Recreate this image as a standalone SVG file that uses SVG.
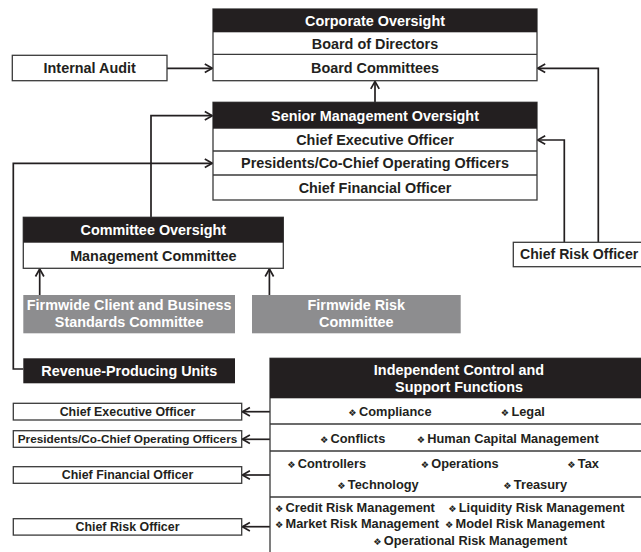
<svg xmlns="http://www.w3.org/2000/svg" width="641" height="552" viewBox="0 0 641 552">
<defs>
<style>
.box{fill:#fff;stroke:#3a3a3a;stroke-width:1.3}
.hdr{fill:#231f20}
.grey{fill:#8d8d8f}
.sep{stroke:#3a3a3a;stroke-width:1.3}
.t{font-family:"Liberation Sans",Arial,sans-serif;font-weight:bold;font-size:14.4px;text-anchor:middle;fill:#231f20}
.w{fill:#fff}
.s{font-size:12.4px}
.b{font-size:12.8px;text-anchor:start}
.dm{font-family:"DejaVu Sans",sans-serif;font-size:9.3px;font-weight:normal}
.ln{fill:none;stroke:#231f20;stroke-width:1.7;marker-end:url(#ah)}
</style>
<marker id="ah" viewBox="-10 -6 12 12" markerWidth="12" markerHeight="12" refX="0" refY="0" orient="auto" markerUnits="userSpaceOnUse">
<path d="M-7.5,-4.2 L0,0 L-7.5,4.2" fill="none" stroke="#231f20" stroke-width="1.7"/>
</marker>
</defs>
<rect width="641" height="552" fill="#fff"/>

<g id="connectors">
<path class="ln" d="M167,68.3 H212.3"/>
<path class="ln" d="M375,102.3 V81.4"/>
<path class="ln" d="M151,217.3 V115.7 H212.3"/>
<path class="ln" d="M23.3,369 H13.3 V163.3 H212.3"/>
<path class="ln" d="M564.3,242.3 V140 H537.7"/>
<path class="ln" d="M598.3,242.3 V68.3 H537.7"/>
<path class="ln" d="M39.7,295 V269"/>
<path class="ln" d="M269.4,295 V269"/>
<path class="ln" d="M270,411.7 H242.4"/>
<path class="ln" d="M270,439.3 H242.4"/>
<path class="ln" d="M270,475 H242.4"/>
<path class="ln" d="M270,526.7 H242.4"/>
</g>

<g id="corporate-oversight">
<rect class="box" x="213" y="9" width="324" height="71.7"/>
<rect class="hdr" x="213" y="9" width="324" height="23.3"/>
<line class="sep" x1="213" y1="54.3" x2="537" y2="54.3"/>
<text class="t w" x="375" y="25.8">Corporate Oversight</text>
<text class="t" x="375" y="48.5">Board of Directors</text>
<text class="t" x="375" y="72.7">Board Committees</text>
</g>

<g id="internal-audit">
<rect class="box" x="12.3" y="55.3" width="154.7" height="25.4"/>
<text class="t" x="89.7" y="73.2">Internal Audit</text>
</g>

<g id="senior-management-oversight">
<rect class="box" x="213" y="102.3" width="324" height="97.7"/>
<rect class="hdr" x="213" y="102.3" width="324" height="26.4"/>
<line class="sep" x1="213" y1="151" x2="537" y2="151"/>
<line class="sep" x1="213" y1="175" x2="537" y2="175"/>
<text class="t w" x="375" y="120.7">Senior Management Oversight</text>
<text class="t" x="375" y="145">Chief Executive Officer</text>
<text class="t" x="375" y="168.2">Presidents/Co-Chief Operating Officers</text>
<text class="t" x="375" y="192.7">Chief Financial Officer</text>
</g>

<g id="committee-oversight">
<rect class="box" x="23.3" y="217.3" width="260" height="51"/>
<rect class="hdr" x="23.3" y="217.3" width="260" height="25.4"/>
<text class="t w" x="153.3" y="235.2">Committee Oversight</text>
<text class="t" x="153.3" y="260.7">Management Committee</text>
</g>

<g id="chief-risk-officer-top">
<rect class="box" x="513.3" y="242.3" width="200" height="24.4"/>
<text class="t" x="520" y="259.2" style="text-anchor:start;font-size:14.1px">Chief Risk Officer</text>
</g>

<g id="firmwide-client-business-standards">
<rect class="grey" x="23.3" y="295" width="211.7" height="38.3"/>
<text class="t w" x="129.2" y="310">Firmwide Client and Business</text>
<text class="t w" x="129.2" y="326.7">Standards Committee</text>
</g>

<g id="firmwide-risk-committee">
<rect class="grey" x="252" y="295" width="208.7" height="38.3"/>
<text class="t w" x="356.3" y="310">Firmwide Risk</text>
<text class="t w" x="356.3" y="326.7">Committee</text>
</g>

<g id="revenue-producing-units">
<rect class="hdr" x="23.3" y="358.3" width="211.7" height="25"/>
<text class="t w" x="129.2" y="376">Revenue-Producing Units</text>
</g>

<g id="independent-control">
<rect class="box" x="270" y="358.3" width="400" height="210"/>
<rect class="hdr" x="270" y="358.3" width="400" height="40"/>
<line class="sep" x1="270" y1="424" x2="670" y2="424"/>
<line class="sep" x1="270" y1="451" x2="670" y2="451"/>
<line class="sep" x1="270" y1="497" x2="670" y2="497"/>
<text class="t w" x="459" y="375.2">Independent Control and</text>
<text class="t w" x="459" y="391.5">Support Functions</text>
<text class="t b" y="416.3"><tspan class="dm" x="348.3">❖</tspan><tspan x="359">Compliance</tspan></text>
<text class="t b" y="416.3"><tspan class="dm" x="500.7">❖</tspan><tspan x="511.4">Legal</tspan></text>
<text class="t b" y="443"><tspan class="dm" x="320">❖</tspan><tspan x="330.5">Conflicts</tspan></text>
<text class="t b" y="443"><tspan class="dm" x="416.7">❖</tspan><tspan x="427.3">Human Capital Management</tspan></text>
<text class="t b" y="468.3"><tspan class="dm" x="287.3">❖</tspan><tspan x="297.8">Controllers</tspan></text>
<text class="t b" y="468.3"><tspan class="dm" x="420.7">❖</tspan><tspan x="431.2">Operations</tspan></text>
<text class="t b" y="468.3"><tspan class="dm" x="567.3">❖</tspan><tspan x="577.8">Tax</tspan></text>
<text class="t b" y="489.3"><tspan class="dm" x="337.3">❖</tspan><tspan x="347.8">Technology</tspan></text>
<text class="t b" y="489.3"><tspan class="dm" x="503.3">❖</tspan><tspan x="513.8">Treasury</tspan></text>
<text class="t b" y="511.7"><tspan class="dm" x="275">❖</tspan><tspan x="285.5">Credit Risk Management</tspan></text>
<text class="t b" y="511.7"><tspan class="dm" x="448.3">❖</tspan><tspan x="458.8">Liquidity Risk Management</tspan></text>
<text class="t b" y="527.7"><tspan class="dm" x="275">❖</tspan><tspan x="285.5">Market Risk Management</tspan></text>
<text class="t b" y="527.7"><tspan class="dm" x="445">❖</tspan><tspan x="455.5">Model Risk Management</tspan></text>
<text class="t b" y="545"><tspan class="dm" x="373.3">❖</tspan><tspan x="383.8">Operational Risk Management</tspan></text>
</g>

<g id="ceo-bottom">
<rect class="box" x="13.3" y="403.3" width="228.4" height="16.7"/>
<text class="t s" x="127.5" y="416.1">Chief Executive Officer</text>
</g>
<g id="presidents-bottom">
<rect class="box" x="13.3" y="430.7" width="228.4" height="16.6"/>
<text class="t s" x="127.5" y="443.3" style="font-size:11.8px">Presidents/Co-Chief Operating Officers</text>
</g>
<g id="cfo-bottom">
<rect class="box" x="13.3" y="466.7" width="228.4" height="16.6"/>
<text class="t s" x="127.5" y="479.4">Chief Financial Officer</text>
</g>
<g id="cro-bottom">
<rect class="box" x="13.3" y="518.7" width="228.4" height="16.4"/>
<text class="t s" x="127.5" y="531.2">Chief Risk Officer</text>
</g>
</svg>
